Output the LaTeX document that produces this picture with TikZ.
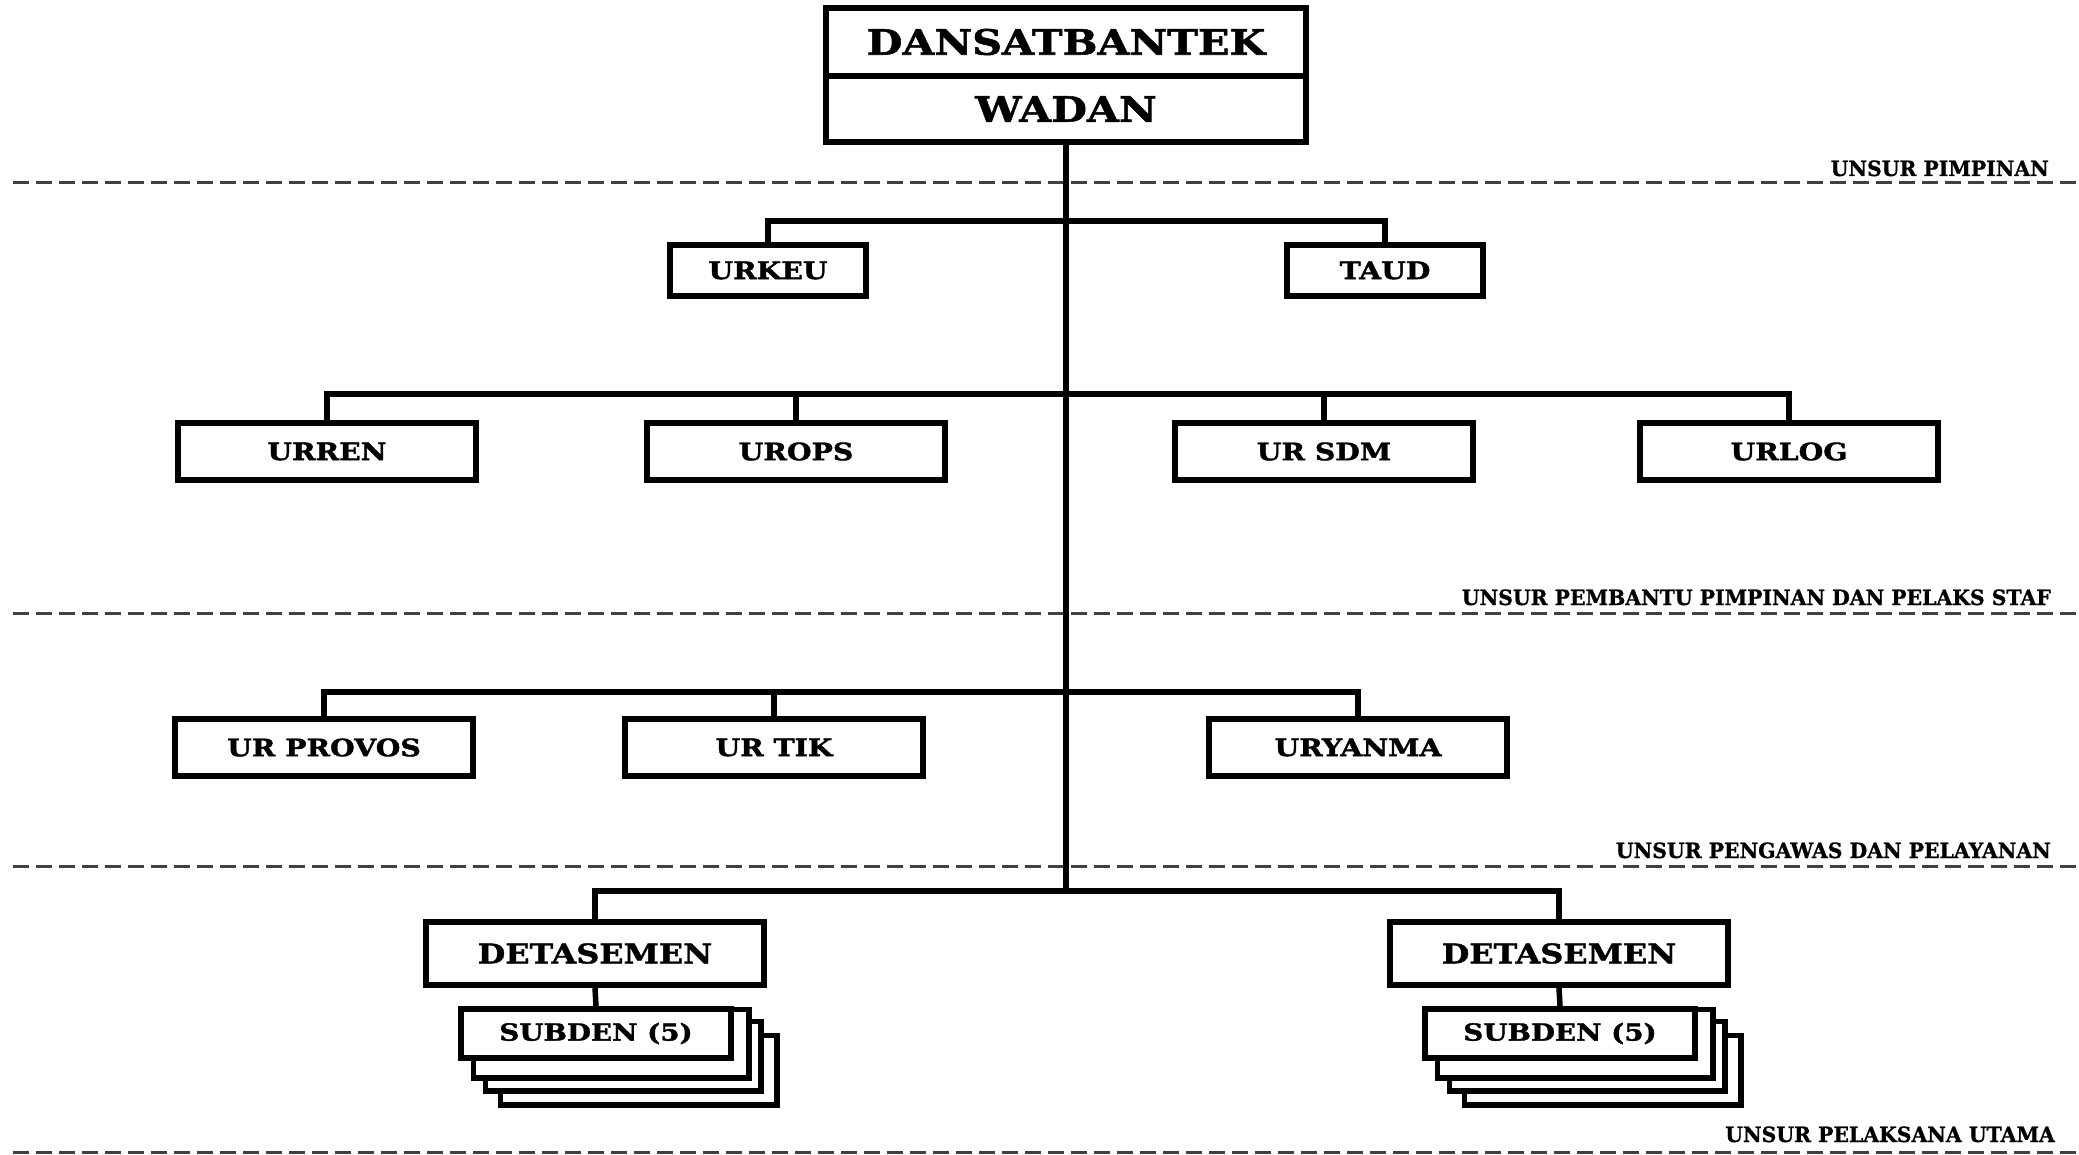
\documentclass[tikz,border=0pt]{standalone}
\usepackage{fontspec}
\setmainfont{DejaVu Serif}
\newfontfamily\boxfnt[FakeStretch=1.18,BoldFeatures={FakeBold=1.5}]{DejaVu Serif}
\newfontfamily\lblfnt[FakeStretch=0.97,BoldFeatures={FakeBold=1}]{DejaVu Serif}
\usetikzlibrary{backgrounds}
\begin{document}
\begin{tikzpicture}[x=1pt,y=-1pt,
  ubox/.style={draw,line width=5.5pt,fill=white,rectangle,inner sep=0pt,font=\boxfnt\bfseries\fontsize{24}{24}\selectfont},
  topbox/.style={ubox,minimum width=480,font=\boxfnt\bfseries\fontsize{35}{35}\selectfont},
  midbox/.style={ubox,minimum width=298,minimum height=57},
  smallbox/.style={ubox,minimum width=196,minimum height=51},
  detbox/.style={ubox,minimum width=338,minimum height=63,font=\boxfnt\bfseries\fontsize{27}{27}\selectfont},
  subbox/.style={ubox,minimum width=270,minimum height=49,font=\boxfnt\bfseries\fontsize{23.5}{23.5}\selectfont},
  conn/.style={line width=5.5pt},
  sep/.style={line width=3pt,black!75,dash pattern=on 16pt off 7pt},
  lbl/.style={anchor=base east,inner sep=0pt,font=\lblfnt\bfseries\fontsize{21}{21}\selectfont}
]
\useasboundingbox (0,0) rectangle (2079,1155);
% separators
\draw[sep] (13,183) -- (2079,183);
\draw[sep] (13,613) -- (2079,613);
\draw[sep] (13,866) -- (2079,866);
\draw[sep] (13,1152) -- (2079,1152);
\node[lbl] (l1) at (2049,176) {UNSUR PIMPINAN};
\node[lbl] (l2) at (2051,605) {UNSUR PEMBANTU PIMPINAN DAN PELAKS STAF};
\node[lbl] (l3) at (2051,858) {UNSUR PENGAWAS DAN PELAYANAN};
\node[lbl] (l4) at (2055,1142) {UNSUR PELAKSANA UTAMA};
% top
\node[topbox,minimum height=68] (dan) at (1066,42) {DANSATBANTEK};
\node[topbox,minimum height=66] (wadan) at (1066,109) {WADAN};
% level 1
\node[smallbox] (urkeu) at (768,270.5) {URKEU};
\node[smallbox] (taud) at (1385,270.5) {TAUD};
% level 2
\node[midbox] (urren) at (327,451.5) {URREN};
\node[midbox] (urops) at (796,451.5) {UROPS};
\node[midbox] (ursdm) at (1324,451.5) {UR SDM};
\node[midbox] (urlog) at (1789,451.5) {URLOG};
% level 3
\node[midbox] (urprovos) at (324,747.5) {UR PROVOS};
\node[midbox] (urtik) at (774,747.5) {UR TIK};
\node[midbox] (uryanma) at (1358,747.5) {URYANMA};
% level 4
\node[detbox] (det1) at (595,953.5) {DETASEMEN};
\node[detbox] (det2) at (1559,953.5) {DETASEMEN};
\node[subbox] (sub1) at (596,1033.5) {SUBDEN (5)};
\node[subbox] (sub2) at (1560,1033.5) {SUBDEN (5)};
\begin{scope}[on background layer]
  \foreach \s in {sub1,sub2}{
    \draw[line width=5.5pt,fill=white] ([shift={(42,29)}]\s.north west) rectangle ([shift={(43,44)}]\s.south east);
    \draw[line width=5.5pt,fill=white] ([shift={(27,15)}]\s.north west) rectangle ([shift={(27,30)}]\s.south east);
    \draw[line width=5.5pt,fill=white] ([shift={(15,3)}]\s.north west) rectangle ([shift={(15,17)}]\s.south east);
  }
\end{scope}
% bars
\coordinate (b1) at (0,221);
\coordinate (b2) at (0,394);
\coordinate (b3) at (0,692);
\coordinate (b4) at (0,891);
\draw[conn] (wadan.south) -- (wadan.south |- b4);
\draw[conn] (urkeu.north) |- (b1 -| taud.north) -- (taud.north);
\draw[conn] (urren.north) |- (b2 -| urlog.north) -- (urlog.north);
\draw[conn] (urops.north) -- (urops.north |- b2);
\draw[conn] (ursdm.north) -- (ursdm.north |- b2);
\draw[conn] (urprovos.north) |- (b3 -| uryanma.north) -- (uryanma.north);
\draw[conn] (urtik.north) -- (urtik.north |- b3);
\draw[conn] (det1.north) |- (b4 -| det2.north) -- (det2.north);
\draw[conn] (det1.south) -- (sub1.north);
\draw[conn] (det2.south) -- (sub2.north);
\end{tikzpicture}
\end{document}
